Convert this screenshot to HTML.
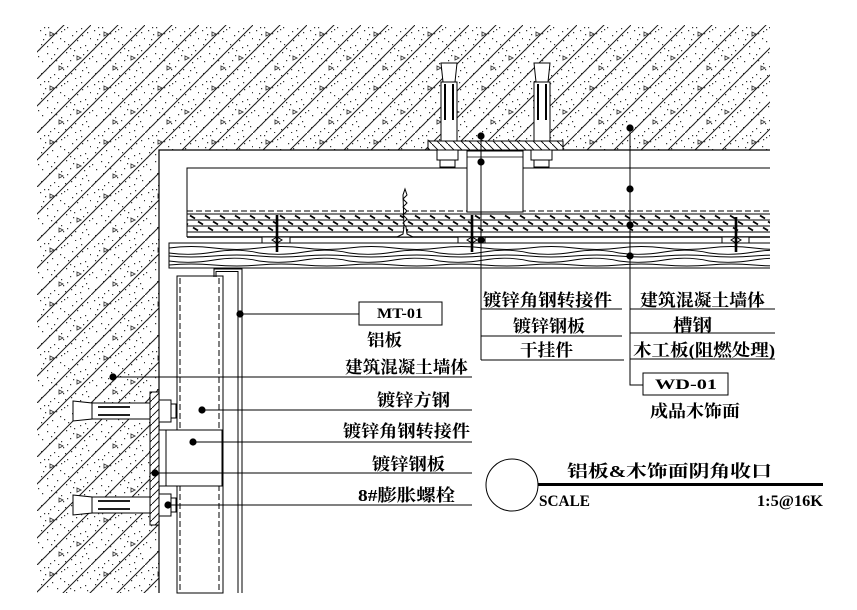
<!DOCTYPE html>
<html><head><meta charset="utf-8"><style>
html,body{margin:0;padding:0;background:#fff;}
svg{display:block;}
.cj{font-family:"Liberation Serif","Noto Serif CJK SC",serif;font-weight:bold;font-size:17px;fill:#000;}
.lt{font-family:"Liberation Serif",serif;font-weight:bold;fill:#000;}
</style></head><body>
<svg width="857" height="610" viewBox="0 0 857 610" xmlns="http://www.w3.org/2000/svg">
<defs>
 <pattern id="conc" patternUnits="userSpaceOnUse" width="54" height="54" x="37" y="25">
  <path d="M-1,28L28,-1M-1,55L55,-1M26,55L55,26" stroke="#1a1a1a" stroke-width="1" fill="none"/>
  <path fill="#333" d="M3,5h1.2v1.2h-1.2zM11,2h1.2v1.2h-1.2zM19,8h1.2v1.2h-1.2zM27,4h1.2v1.2h-1.2zM35,10h1.2v1.2h-1.2zM44,3h1.2v1.2h-1.2zM50,7h1.2v1.2h-1.2zM6,14h1.2v1.2h-1.2zM15,17h1.2v1.2h-1.2zM23,13h1.2v1.2h-1.2zM31,19h1.2v1.2h-1.2zM40,15h1.2v1.2h-1.2zM48,20h1.2v1.2h-1.2zM2,24h1.2v1.2h-1.2zM10,28h1.2v1.2h-1.2zM20,23h1.2v1.2h-1.2zM29,27h1.2v1.2h-1.2zM37,25h1.2v1.2h-1.2zM46,29h1.2v1.2h-1.2zM52,33h1.2v1.2h-1.2zM5,36h1.2v1.2h-1.2zM14,33h1.2v1.2h-1.2zM24,38h1.2v1.2h-1.2zM33,35h1.2v1.2h-1.2zM41,39h1.2v1.2h-1.2zM49,42h1.2v1.2h-1.2zM8,45h1.2v1.2h-1.2zM17,49h1.2v1.2h-1.2zM26,44h1.2v1.2h-1.2zM34,48h1.2v1.2h-1.2zM43,51h1.2v1.2h-1.2zM51,47h1.2v1.2h-1.2zM1,52h1.2v1.2h-1.2zM21,53h1.2v1.2h-1.2zM38,44h1.2v1.2h-1.2zM12,40h1.2v1.2h-1.2zM45,10h1.2v1.2h-1.2zM30,2h1.2v1.2h-1.2zM17,29h1.2v1.2h-1.2zM4,19h1.2v1.2h-1.2zM8,9h1.2v1.2h-1.2zM36,30h1.2v1.2h-1.2zM28,50h1.2v1.2h-1.2zM47,37h1.2v1.2h-1.2zM22,31h1.2v1.2h-1.2zM7,2h1.2v1.2h-1.2zM24,6h1.2v1.2h-1.2zM39,6h1.2v1.2h-1.2zM53,13h1.2v1.2h-1.2zM10,21h1.2v1.2h-1.2zM27,16h1.2v1.2h-1.2zM43,22h1.2v1.2h-1.2zM1,31h1.2v1.2h-1.2zM30,41h1.2v1.2h-1.2zM45,45h1.2v1.2h-1.2zM4,48h1.2v1.2h-1.2zM13,52h1.2v1.2h-1.2zM38,53h1.2v1.2h-1.2zM19,35h1.2v1.2h-1.2zM50,25h1.2v1.2h-1.2zM33,23h1.2v1.2h-1.2z"/>
  <path d="M13,7l4,2l-4,2zM40,31l4,2l-4,2zM22,41l4,2l-4,2z" fill="none" stroke="#333" stroke-width="0.9"/>
 </pattern>
 <pattern id="ph1" patternUnits="userSpaceOnUse" width="8" height="8">
  <path d="M-1,-1L9,9" stroke="#000" stroke-width="0.9"/>
 </pattern>
 <pattern id="ph2" patternUnits="userSpaceOnUse" width="8" height="8">
  <path d="M-1,9L9,-1" stroke="#000" stroke-width="0.9"/>
 </pattern>
 <pattern id="sl1" patternUnits="userSpaceOnUse" width="15" height="6" x="187" y="214">
  <path d="M3,1.5L8,4.5" stroke="#000" stroke-width="1.8"/>
 </pattern>
 <pattern id="sl2" patternUnits="userSpaceOnUse" width="15" height="6" x="195" y="220">
  <path d="M3,1.5L8,4.5" stroke="#000" stroke-width="1.8"/>
 </pattern>
 <pattern id="sl3" patternUnits="userSpaceOnUse" width="15" height="6" x="190" y="226">
  <path d="M3,1.5L8,4.5" stroke="#000" stroke-width="1.8"/>
 </pattern>
 <pattern id="wv" patternUnits="userSpaceOnUse" width="90" height="25" x="169" y="243">
  <g fill="none" stroke="#000" stroke-width="0.9">
   <path d="M0,5Q22,2 45,5T90,5"/>
   <path d="M0,10Q22,13 45,9T90,10"/>
   <path d="M0,13Q22,15 45,13T90,13"/>
   <path d="M0,18Q22,21 45,17T90,18"/>
   <path d="M0,22Q22,20 45,22T90,22"/>
  </g>
 </pattern>
</defs>

<rect width="857" height="610" fill="#fff"/>

<!-- concrete -->
<polygon points="37,25 770,25 770,150 159,150 159,593 37,593" fill="url(#conc)"/>
<path d="M159,593V150H770" fill="none" stroke="#000" stroke-width="1.2"/>

<!-- top anchors -->
<g fill="none" stroke="#000" stroke-width="1">
 <polygon points="441,63 457,63 455,82 443,82" fill="#fff"/>
 <rect x="441" y="82" width="16" height="59" fill="#fff"/>
 <path d="M445,84V120M453,84V120" stroke-width="2"/>
 <polygon points="534,63 550,63 548,82 536,82" fill="#fff"/>
 <rect x="534" y="82" width="16" height="59" fill="#fff"/>
 <path d="M538,84V120M546,84V120" stroke-width="2"/>
</g>
<rect x="428" y="141" width="135" height="9" fill="#fff"/>
<rect x="428" y="141" width="135" height="9" fill="url(#ph1)" stroke="#000" stroke-width="1"/>
<g fill="#fff" stroke="#000" stroke-width="1">
 <rect x="437" y="150" width="21" height="10"/>
 <rect x="440" y="160" width="15" height="7"/>
 <rect x="531" y="150" width="21" height="10"/>
 <rect x="534" y="160" width="15" height="7"/>
</g>

<!-- channel / frame -->
<path d="M187,237V168H770" fill="none" stroke="#000" stroke-width="1"/>
<!-- wood board layer -->
<rect x="187" y="214" width="583" height="6" fill="url(#sl1)"/>
<rect x="187" y="220" width="583" height="6" fill="url(#sl2)"/>
<rect x="187" y="226" width="583" height="6" fill="url(#sl3)"/>
<path d="M187,211H770" stroke="#000" stroke-width="1" stroke-dasharray="6,3"/>
<path d="M187,214H770M187,220H770M187,226H770M187,232H770" stroke="#000" stroke-width="0.9"/>
<path d="M187,237H770" stroke="#000" stroke-width="1.6"/>
<!-- connector top -->
<rect x="467" y="151" width="56" height="61" fill="#fff" stroke="#000" stroke-width="1"/>
<path d="M467,157H523" stroke="#000" stroke-width="0.8"/>

<!-- veneer -->
<rect x="169" y="243" width="601" height="25" fill="url(#wv)"/>
<path d="M770,243H169V268H770" fill="none" stroke="#000" stroke-width="1"/>

<!-- clips and screws -->
<g stroke="#000" stroke-width="1" fill="#fff">
 <rect x="262" y="237" width="28" height="6"/>
 <rect x="458" y="237" width="27" height="6"/>
 <rect x="722" y="237" width="27" height="6"/>
</g>
<g stroke="#000" stroke-width="2.6">
 <path d="M277,215V252M472,215V252M736,217V252"/>
</g>
<g fill="none" stroke="#000" stroke-width="1">
 <path d="M272,240l5,-3l5,3l-5,3zM467,240l5,-3l5,3l-5,3zM731,240l5,-3l5,3l-5,3z"/>
</g>
<!-- nail -->
<path d="M405,189L407,195L403,199L407,203L403,207L407,211L403,215L407,219L403,223L406,227L407,234L413,237H397L403,234L404,227L403,195Z" fill="#fff" stroke="#000" stroke-width="1"/>

<!-- left: square tube -->
<rect x="177" y="276" width="46" height="317" fill="#fff" stroke="#000" stroke-width="1"/>
<path d="M180,278V593M219,278V593" stroke="#000" stroke-width="1" stroke-dasharray="6,3"/>
<!-- aluminum panel -->
<path d="M214,277V269H242V593M216,277V271.5H238V593" fill="none" stroke="#000" stroke-width="1"/>

<!-- wall plate -->
<rect x="150" y="392" width="9" height="133" fill="#fff"/>
<rect x="150" y="392" width="9" height="133" fill="url(#ph2)" stroke="#000" stroke-width="1"/>
<!-- left anchors -->
<g fill="#fff" stroke="#000" stroke-width="1">
 <polygon points="73,401 92,403 92,419 73,421"/>
 <rect x="92" y="403" width="58" height="16"/>
 <polygon points="73,495 92,497 92,513 73,515"/>
 <rect x="92" y="497" width="58" height="16"/>
</g>
<path d="M98,407H130M98,415H130M98,501H130M98,509H130" stroke="#000" stroke-width="1.8"/>
<g fill="#fff" stroke="#000" stroke-width="1">
 <rect x="159" y="400" width="12" height="22"/>
 <rect x="171" y="404" width="5" height="14"/>
 <rect x="159" y="494" width="12" height="22"/>
 <rect x="171" y="498" width="5" height="14"/>
</g>
<!-- connector left -->
<rect x="159" y="430" width="63" height="56" fill="#fff" stroke="#000" stroke-width="1"/>
<path d="M166,430V486" stroke="#000" stroke-width="1"/>

<!-- leaders -->
<g stroke="#000" stroke-width="1" fill="none">
 <path d="M481,136V360M481,309H622M481,336H622M481,360H624"/>
 <path d="M630,128V385H643M630,309H775M630,333H775M630,359H775"/>
 <path d="M240,314H359"/>
 <path d="M113,377H472M202,410H472M193,442H472M155,473H472M168,505H472"/>
 <rect x="359" y="302" width="83" height="23"/>
 <rect x="643" y="373" width="85" height="22"/>
</g>
<g fill="#000">
 <circle cx="481" cy="136" r="3.6"/><circle cx="481" cy="162" r="3.6"/><circle cx="481" cy="240" r="3.6"/>
 <circle cx="630" cy="128" r="3.6"/><circle cx="630" cy="189" r="3.6"/><circle cx="630" cy="225" r="3.6"/><circle cx="630" cy="256" r="3.6"/>
 <circle cx="240" cy="314" r="3.6"/>
 <circle cx="113" cy="377" r="3.6"/><circle cx="202" cy="410" r="3.6"/><circle cx="193" cy="442" r="3.6"/><circle cx="155" cy="473" r="3.6"/><circle cx="168" cy="505" r="3.6"/>
</g>

<!-- labels -->
<text class="cj" x="483" y="306" textLength="129" lengthAdjust="spacingAndGlyphs">镀锌角钢转接件</text>
<text class="cj" x="513" y="332" textLength="72" lengthAdjust="spacingAndGlyphs">镀锌钢板</text>
<text class="cj" x="520" y="356" textLength="53" lengthAdjust="spacingAndGlyphs">干挂件</text>
<text class="cj" x="640" y="306" textLength="125" lengthAdjust="spacingAndGlyphs">建筑混凝土墙体</text>
<text class="cj" x="673" y="331" textLength="39" lengthAdjust="spacingAndGlyphs">槽钢</text>
<text class="cj" x="633" y="356" textLength="142" lengthAdjust="spacingAndGlyphs">木工板(阻燃处理)</text>
<text class="lt" x="655" y="389" font-size="15" textLength="62" lengthAdjust="spacingAndGlyphs">WD-01</text>
<text class="cj" x="650" y="417" textLength="90" lengthAdjust="spacingAndGlyphs">成品木饰面</text>

<text class="lt" x="377" y="318" font-size="15" textLength="46" lengthAdjust="spacingAndGlyphs">MT-01</text>
<text class="cj" x="367" y="346" textLength="35" lengthAdjust="spacingAndGlyphs">铝板</text>
<text class="cj" x="345" y="373" textLength="123" lengthAdjust="spacingAndGlyphs">建筑混凝土墙体</text>
<text class="cj" x="377" y="406" textLength="73" lengthAdjust="spacingAndGlyphs">镀锌方钢</text>
<text class="cj" x="343" y="437" textLength="127" lengthAdjust="spacingAndGlyphs">镀锌角钢转接件</text>
<text class="cj" x="372" y="470" textLength="73" lengthAdjust="spacingAndGlyphs">镀锌钢板</text>
<text class="cj" x="358" y="501" textLength="97" lengthAdjust="spacingAndGlyphs">8#膨胀螺栓</text>

<!-- title -->
<circle cx="512" cy="485" r="26" fill="none" stroke="#000" stroke-width="1"/>
<path d="M538,484.5H823" stroke="#000" stroke-width="3"/>
<text class="cj" x="567" y="477" font-size="21.5" textLength="205" lengthAdjust="spacingAndGlyphs">铝板&amp;木饰面阴角收口</text>
<text class="lt" x="539" y="506" font-size="16" textLength="51" lengthAdjust="spacingAndGlyphs">SCALE</text>
<text class="lt" x="757" y="506" font-size="16" textLength="66" lengthAdjust="spacingAndGlyphs">1:5@16K</text>
</svg>
</body></html>
